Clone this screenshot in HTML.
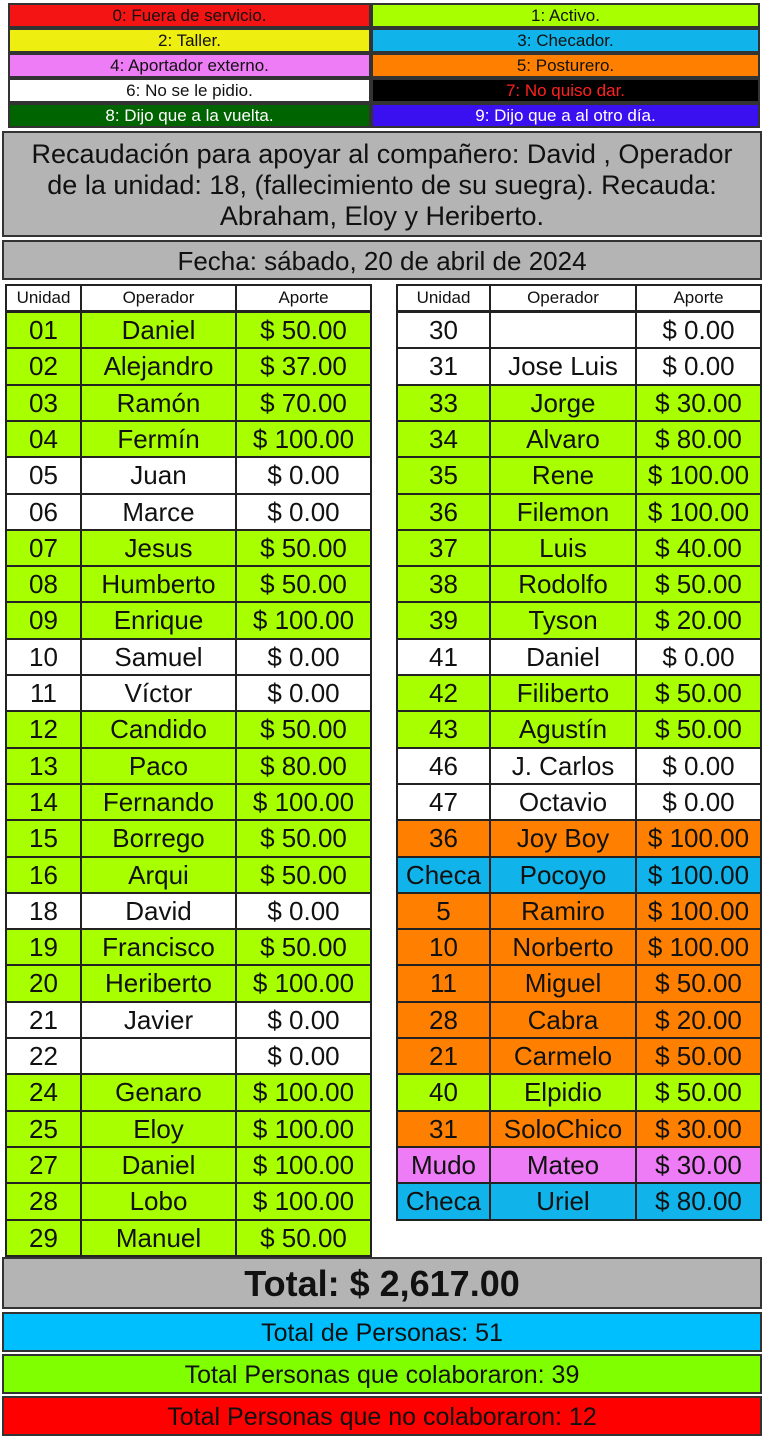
<!DOCTYPE html>
<html><head><meta charset="utf-8">
<style>
*{box-sizing:border-box;margin:0;padding:0}
body{width:768px;height:1438px;background:#fff;position:relative;overflow:hidden;font-family:"Liberation Sans",sans-serif;color:#111}
.c{position:absolute;border:2px solid #222;display:flex;align-items:center;justify-content:center;white-space:nowrap;overflow:hidden;text-align:center}
.lg{font-size:17px;border:2px solid #333}
.box{position:absolute;border:2px solid #333;background:#b4b4b4;text-align:center}
</style></head><body>
<div id="legend"></div>
<div class="box" style="left:2px;top:131px;width:760px;height:106px;font-size:27px;line-height:31px;padding-top:6px;white-space:nowrap">Recaudación para apoyar al compañero: David , Operador<br>de la unidad: 18, (fallecimiento de su suegra). Recauda:<br>Abraham, Eloy y Heriberto.</div>
<div class="box" style="left:2px;top:240px;width:760px;height:40px;font-size:26px;line-height:38px">Fecha: sábado, 20 de abril de 2024</div>
<div id="tables"></div>
<div class="box" style="left:2px;top:1257px;width:760px;height:52px;font-size:36px;font-weight:bold;line-height:50px">Total: $ 2,617.00</div>
<div class="box" style="left:2px;top:1312px;width:760px;height:40px;font-size:25px;line-height:38px;background:#00bfff">Total de Personas: 51</div>
<div class="box" style="left:2px;top:1354px;width:760px;height:40px;font-size:25px;line-height:38px;background:#80ff00">Total Personas que colaboraron: 39</div>
<div class="box" style="left:2px;top:1396px;width:760px;height:40px;font-size:25px;line-height:38px;background:#ff0000">Total Personas que no colaboraron: 12</div>
<script>
const legendLabels=["0: Fuera de servicio.","1: Activo.","2: Taller.","3: Checador.","4: Aportador externo.","5: Posturero.","6: No se le pidio.","7: No quiso dar.","8: Dijo que a la vuelta.","9: Dijo que a al otro día."];
const legendBg=["#f41414","#a8ff00","#eeee10","#11b4ea","#ee7cf6","#ff8000","#ffffff","#000000","#006400","#3a10f0"];
const legendFg=["#111","#111","#111","#111","#111","#111","#111","#ff2020","#fff","#fff"];
const leftUnits=["01","02","03","04","05","06","07","08","09","10","11","12","13","14","15","16","18","19","20","21","22","24","25","27","28","29"];
const leftNames=["Daniel","Alejandro","Ramón","Fermín","Juan","Marce","Jesus","Humberto","Enrique","Samuel","Víctor","Candido","Paco","Fernando","Borrego","Arqui","David","Francisco","Heriberto","Javier","","Genaro","Eloy","Daniel","Lobo","Manuel"];
const leftAmounts=[50,37,70,100,0,0,50,50,100,0,0,50,80,100,50,50,0,50,100,0,0,100,100,100,100,50];
const leftStatus=[1,1,1,1,6,6,1,1,1,6,6,1,1,1,1,1,6,1,1,6,6,1,1,1,1,1];
const rightUnits=["30","31","33","34","35","36","37","38","39","41","42","43","46","47","36","Checa","5","10","11","28","21","40","31","Mudo","Checa"];
const rightNames=["","Jose Luis","Jorge","Alvaro","Rene","Filemon","Luis","Rodolfo","Tyson","Daniel","Filiberto","Agustín","J. Carlos","Octavio","Joy Boy","Pocoyo","Ramiro","Norberto","Miguel","Cabra","Carmelo","Elpidio","SoloChico","Mateo","Uriel"];
const rightAmounts=[0,0,30,80,100,100,40,50,20,0,50,50,0,0,100,100,100,100,50,20,50,50,30,30,80];
const rightStatus=[6,6,1,1,1,1,1,1,1,6,1,1,6,6,5,3,5,5,5,5,5,1,5,4,3];
const statusColor={1:"#a8ff00",3:"#11b4ea",4:"#ee7cf6",5:"#ff8000",6:"#ffffff"};

const L=document.getElementById('legend');
for(let i=0;i<legendLabels.length;i++){
  const d=document.createElement('div');
  d.className='c lg';
  const col=i%2,row=Math.floor(i/2);
  d.style.left=(col?371:8)+'px';d.style.top=(3+row*25)+'px';
  d.style.width=(col?389:363)+'px';d.style.height='25px';
  d.style.background=legendBg[i];d.style.color=legendFg[i];
  d.textContent=legendLabels[i];
  
  
  L.appendChild(d);
}
const T=document.getElementById('tables');
function cell(x,y,w,h,txt,bg,fs,name){
  const d=document.createElement('div');
  d.className='c';
  d.style.left=x+'px';d.style.top=y+'px';d.style.width=w+'px';d.style.height=h+'px';
  d.style.background=bg;d.style.fontSize=fs+'px';
  d.textContent=txt;
  
  
  T.appendChild(d);
}
function fmt(v){return '$ '+v.toFixed(2);}
function table(x0,cols,units,names,amts,stat){
  const xs=[x0];cols.forEach(w=>xs.push(xs[xs.length-1]+w));
  const hdr=["Unidad","Operador","Aporte"];
  for(let j=0;j<3;j++)cell(xs[j],284,cols[j]+2,28,hdr[j],'#fff',17,'column-header');
  const rh=36.3;
  for(let i=0;i<units.length;i++){
    const y=Math.round(311+i*rh),h=Math.round(311+(i+1)*rh)-y+2;
    const bg=statusColor[stat[i]];
    cell(xs[0],y,cols[0]+2,h,units[i],bg,26,'unit-cell');
    cell(xs[1],y,cols[1]+2,h,names[i],bg,26,'operator-cell');
    cell(xs[2],y,cols[2]+2,h,fmt(amts[i]),bg,26,'amount-cell');
  }
}
table(5,[75,155,135],leftUnits,leftNames,leftAmounts,leftStatus);
table(396,[93,146,125],rightUnits,rightNames,rightAmounts,rightStatus);
</script>
</body></html>
